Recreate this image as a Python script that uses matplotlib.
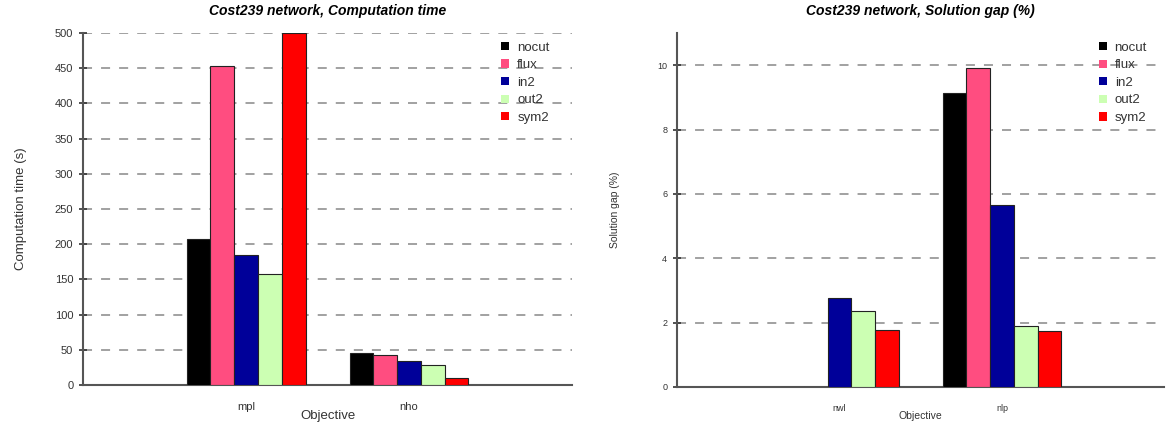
import numpy as np
import matplotlib
matplotlib.use("Agg")
import matplotlib.pyplot as plt

plt.rcParams['font.family'] = ['Liberation Sans', 'DejaVu Sans']

# Dữ liệu
series = ["nocut", "flux", "in2", "out2", "sym2"]
colors = ["#000000", "#ff4d80", "#000099", "#ccffb3", "#ff0000"]

time_cats = ["mpl", "nho"]
time_vals = {
    "nocut": [207.5, 46],
    "flux": [453, 42.5],
    "in2": [184, 34],
    "out2": [157, 29],
    "sym2": [500, 10],
}

gap_cats = ["nwl", "nlp"]
gap_vals = {
    "nocut": [0, 9.12],
    "flux": [0, 9.90],
    "in2": [2.75, 5.65],
    "out2": [2.35, 1.89],
    "sym2": [1.77, 1.73],
}

fig = plt.figure(figsize=(11.68, 4.34), dpi=100)
ax1 = fig.add_axes([0.0711, 0.1129, 0.4186, 0.8111])
ax2 = fig.add_axes([0.5796, 0.1083, 0.4174, 0.8157])

bw = 0.146


def draw(ax, cats, vals, ylim, yticks, title, ylabel, tick_fs, lab_fs, leg_x):
    x = np.arange(1, len(cats) + 1)
    for i, s in enumerate(series):
        ax.bar(x + (i - 2) * bw, vals[s], bw, color=colors[i],
               edgecolor="#222222", linewidth=0.8, label=s, zorder=3)
    ax.set_xlim(0, 3)
    ax.set_ylim(*ylim)
    ax.set_yticks(yticks)
    ax.set_xticks(x)
    ax.set_xticklabels(cats)
    ax.yaxis.grid(True, linestyle=(0, (5, 5)), color="#9a9a9a", linewidth=1.3, zorder=0)
    for sp in ["top", "right"]:
        ax.spines[sp].set_visible(False)
    for sp in ["left", "bottom"]:
        ax.spines[sp].set_color("#555555")
        ax.spines[sp].set_linewidth(1.5)
    ax.tick_params(axis="y", direction="inout", length=6, width=1.2, color="#333333",
                   labelsize=tick_fs, labelcolor="#333333", pad=4)
    ax.tick_params(axis="x", length=0, labelsize=tick_fs, labelcolor="#333333", pad=12)
    ax.set_title(title, fontsize=10, fontweight="bold", fontstyle="italic", pad=13)
    ax.set_ylabel(ylabel, fontsize=lab_fs, color="#333333")
    ax.set_xlabel("Objective", fontsize=lab_fs, color="#333333", labelpad=-1)
    leg = ax.legend(loc="upper right", frameon=False, fontsize=9.5, handlelength=0.6,
                    handleheight=0.6, handletextpad=0.6, labelspacing=0.42,
                    borderaxespad=0.0, bbox_to_anchor=(leg_x, 0.99))
    for t in leg.get_texts():
        t.set_color("#333333")
    for h in leg.legend_handles:
        h.set_edgecolor("none")


draw(ax1, time_cats, time_vals, (0, 500), np.arange(0, 501, 50),
     "Cost239 network, Computation time", "Computation time (s)", 8, 9.5, 0.965)
draw(ax2, gap_cats, gap_vals, (0, 11), np.arange(0, 11, 2),
     "Cost239 network, Solution gap (%)", "Solution gap (%)", 6.5, 7.5, 0.975)
ax1.yaxis.labelpad = 20
ax2.yaxis.labelpad = 27

fig.savefig("out.png", dpi=100)
